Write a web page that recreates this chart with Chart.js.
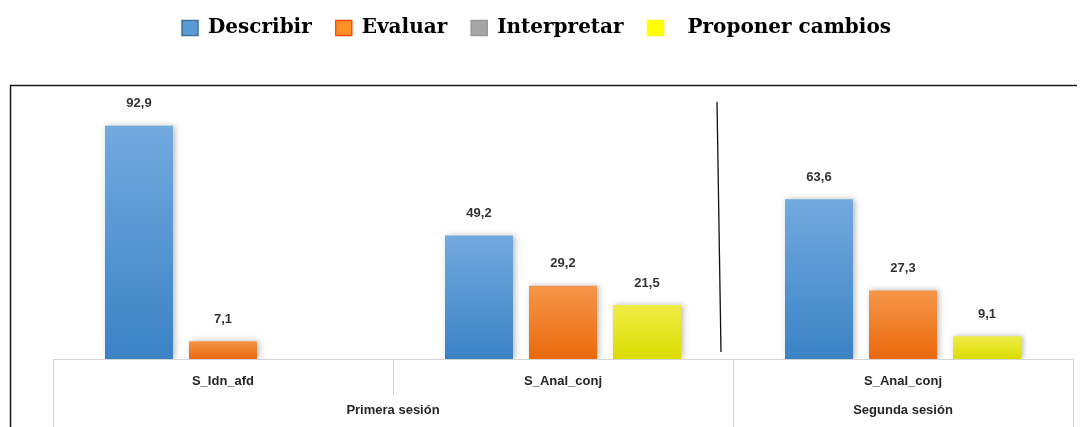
<!DOCTYPE html>
<html>
<head>
<meta charset="utf-8">
<script src="https://cdn.jsdelivr.net/npm/chart.js@4.4.1/dist/chart.umd.min.js"></script>
<style>
  html, body { margin: 0; padding: 0; background: #ffffff; }
  #wrap { width: 1080px; height: 427px; }
</style>
</head>
<body>
<div id="wrap"><canvas id="c" width="1080" height="427"></canvas></div>
<script>
// Categories (inner level) and their sessions (outer level)
const categories = ['S_Idn_afd', 'S_Anal_conj', 'S_Anal_conj'];
const sessions = ['Primera sesión', 'Segunda sesión'];
const sessionSpans = [2, 1];

// Series
const seriesNames = ['Describir', 'Evaluar', 'Interpretar', 'Proponer cambios'];
const describir = [92.9, 49.2, 63.6];
const evaluar = [7.1, 29.2, 27.3];
const interpretar = [null, null, null];
const proponer = [null, 21.5, 9.1];

const legendFill = ['#5b9bd5', '#ff9224', '#a5a5a5', '#ffff00'];
const legendStroke = ['#41719c', '#ff4a10', '#979797', '#ffff00'];

function barGradient(topColor, bottomColor) {
  return (ctx) => {
    const chart = ctx.chart;
    const y = chart.scales && chart.scales.y;
    if (!y || !ctx.parsed || ctx.parsed.y == null) return bottomColor;
    const yTop = y.getPixelForValue(ctx.parsed.y);
    const yBase = y.getPixelForValue(0);
    if (!isFinite(yTop) || !isFinite(yBase) || yBase - yTop < 1) return bottomColor;
    const g = chart.ctx.createLinearGradient(0, yTop, 0, yBase);
    g.addColorStop(0, topColor);
    g.addColorStop(1, bottomColor);
    return g;
  };
}

const fmt = (v) => v.toFixed(1).replace('.', ',');

// Legend occupies the band above the plot frame
const legendBand = {
  id: 'legendBand',
  afterInit(chart) {
    const legend = chart.legend;
    const fit = legend.fit;
    legend.fit = function () {
      fit.call(this);
      this.height = 114;
    };
  }
};

// Bar shadows and value labels
const barDecor = {
  id: 'barDecor',
  beforeDatasetsDraw(chart) {
    const ctx = chart.ctx;
    ctx.save();
    ctx.shadowColor = 'rgba(0,0,0,0.28)';
    ctx.shadowBlur = 6;
    ctx.shadowOffsetX = 2;
    ctx.shadowOffsetY = 0;
  },
  afterDatasetsDraw(chart) {
    const ctx = chart.ctx;
    ctx.restore();
    ctx.save();
    ctx.font = 'bold 13px "Liberation Sans", Arial, sans-serif';
    ctx.fillStyle = '#333333';
    ctx.textAlign = 'center';
    ctx.textBaseline = 'middle';
    chart.data.datasets.forEach((ds, i) => {
      const meta = chart.getDatasetMeta(i);
      meta.data.forEach((bar, j) => {
        const v = ds.data[j];
        if (v == null) return;
        ctx.fillText(fmt(v), bar.x, bar.y - 22);
      });
    });
    ctx.restore();
  }
};

// Frame, axis line, two-level category separators, session labels, divider
const axisDecor = {
  id: 'axisDecor',
  afterDraw(chart) {
    const ctx = chart.ctx;
    const x = chart.scales.x;
    const area = chart.chartArea;
    const n = categories.length;
    const catW = (x.right - x.left) / n;
    const H = chart.height;

    ctx.save();
    // outer frame
    ctx.strokeStyle = '#1a1a1a';
    ctx.lineWidth = 1.5;
    ctx.beginPath();
    ctx.moveTo(10.5, H + 5);
    ctx.lineTo(10.5, 85.5);
    ctx.lineTo(1077, 85.5);
    ctx.stroke();

    // baseline
    ctx.strokeStyle = '#d6d6d6';
    ctx.lineWidth = 1;
    ctx.beginPath();
    ctx.moveTo(x.left, area.bottom + 0.5);
    ctx.lineTo(x.right, area.bottom + 0.5);
    ctx.stroke();

    // separators: full height at session boundaries, short otherwise
    const sessionEdges = new Set([0]);
    let acc = 0;
    sessionSpans.forEach((s) => { acc += s; sessionEdges.add(acc); });
    for (let i = 0; i <= n; i++) {
      const xb = Math.round(x.left + i * catW) + 0.5;
      const yEnd = sessionEdges.has(i) ? H : area.bottom + 36;
      ctx.beginPath();
      ctx.moveTo(xb, area.bottom);
      ctx.lineTo(xb, yEnd);
      ctx.stroke();
    }

    // session labels
    ctx.font = 'bold 13px "Liberation Sans", Arial, sans-serif';
    ctx.fillStyle = '#262626';
    ctx.textAlign = 'center';
    ctx.textBaseline = 'middle';
    let start = 0;
    sessions.forEach((name, k) => {
      const l = x.left + start * catW;
      const r = x.left + (start + sessionSpans[k]) * catW;
      ctx.fillText(name, (l + r) / 2, area.bottom + 51);
      start += sessionSpans[k];
    });

    // divider between sessions inside the plot
    const xd = x.left + sessionSpans[0] * catW;
    ctx.strokeStyle = '#111111';
    ctx.lineWidth = 1.3;
    ctx.beginPath();
    ctx.moveTo(xd - 16, area.top - 6);
    ctx.lineTo(xd - 12, area.bottom - 7);
    ctx.stroke();
    ctx.restore();
  }
};

new Chart(document.getElementById('c'), {
  type: 'bar',
  data: {
    labels: categories,
    datasets: [
      { label: seriesNames[0], data: describir, backgroundColor: barGradient('#72aadf', '#3b82c5') },
      { label: seriesNames[1], data: evaluar, backgroundColor: barGradient('#f5964a', '#ea690c') },
      { label: seriesNames[2], data: interpretar, backgroundColor: '#a5a5a5', grouped: false },
      { label: seriesNames[3], data: proponer, backgroundColor: barGradient('#eeee48', '#dcdc00') }
    ]
  },
  options: {
    responsive: false,
    animation: false,
    devicePixelRatio: 1,
    categoryPercentage: 0.7412,
    barPercentage: 0.8095,
    layout: { padding: { top: -6, left: 0, right: 7, bottom: 0 } },
    plugins: {
      tooltip: { enabled: false },
      legend: {
        position: 'top',
        labels: {
          boxWidth: 16,
          boxHeight: 15,
          padding: 24,
          color: '#000000',
          font: { family: '"DejaVu Serif", serif', weight: 'bold', size: 20 },
          generateLabels: (chart) => chart.data.datasets.map((ds, i) => ({
            text: (i === 3 ? '  ' : '') + ds.label,
            fillStyle: legendFill[i],
            strokeStyle: legendStroke[i],
            lineWidth: 1.5,
            hidden: false,
            datasetIndex: i,
            fontColor: '#000000'
          }))
        }
      }
    },
    scales: {
      x: {
        grid: { display: false },
        border: { display: false },
        ticks: {
          color: '#262626',
          font: { family: '"Liberation Sans", Arial, sans-serif', weight: 'bold', size: 13 },
          padding: 7,
          maxRotation: 0,
          autoSkip: false
        },
        afterFit: (scale) => { scale.height = 68; }
      },
      y: {
        display: true,
        min: 0,
        max: 100,
        grid: { display: false },
        border: { display: false },
        ticks: { display: false },
        afterFit: (scale) => { scale.width = 53; }
      }
    }
  },
  plugins: [legendBand, barDecor, axisDecor]
});
</script>
</body>
</html>
